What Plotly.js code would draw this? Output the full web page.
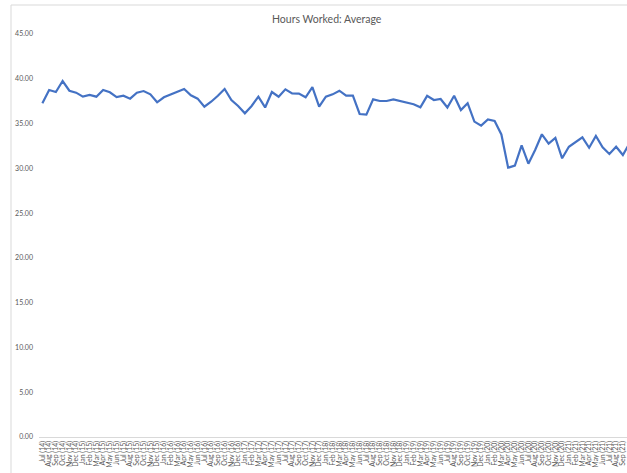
<!DOCTYPE html>
<html>
<head>
<meta charset="utf-8">
<script src="https://cdn.plot.ly/plotly-3.0.1.min.js"></script>
<style>
  html, body { margin: 0; padding: 0; overflow: hidden; background: #fff; }
  #chart { width: 642px; height: 473px; }
</style>
</head>
<body>
<div id="chart"></div>
<script>
const months = [
  "Jul (14)","Aug (14)","Sep (14)","Oct (14)","Nov (14)","Dec (14)",
  "Jan (15)","Feb (15)","Mar (15)","Apr (15)","May (15)","Jun (15)","Jul (15)","Aug (15)","Sep (15)","Oct (15)","Nov (15)","Dec (15)",
  "Jan (16)","Feb (16)","Mar (16)","Apr (16)","May (16)","Jun (16)","Jul (16)","Aug (16)","Sep (16)","Oct (16)","Nov (16)","Dec (16)",
  "Jan (17)","Feb (17)","Mar (17)","Apr (17)","May (17)","Jun (17)","Jul (17)","Aug (17)","Sep (17)","Oct (17)","Nov (17)","Dec (17)",
  "Jan (18)","Feb (18)","Mar (18)","Apr (18)","May (18)","Jun (18)","Jul (18)","Aug (18)","Sep (18)","Oct (18)","Nov (18)","Dec (18)",
  "Jan (19)","Feb (19)","Mar (19)","Apr (19)","May (19)","Jun (19)","Jul (19)","Aug (19)","Sep (19)","Oct (19)","Nov (19)","Dec (19)",
  "Jan (20)","Feb (20)","Mar (20)","Apr (20)","May (20)","Jun (20)","Jul (20)","Aug (20)","Sep (20)","Oct (20)","Nov (20)","Dec (20)",
  "Jan (21)","Feb (21)","Mar (21)","Apr (21)","May (21)","Jun (21)","Jul (21)","Aug (21)","Sep (21)","Oct (21)"
];

const hoursWorked = [
  37.26, 38.75, 38.52, 39.75, 38.67, 38.45,
  38.00, 38.19, 38.00, 38.75, 38.49, 37.96, 38.11, 37.78, 38.45, 38.63, 38.26, 37.37,
  37.93, 38.22, 38.56, 38.86, 38.15, 37.78, 36.88, 37.44, 38.11, 38.86, 37.63, 36.96,
  36.14, 36.96, 38.00, 36.80, 38.52, 38.00, 38.82, 38.37, 38.34, 37.93, 39.07, 36.88,
  38.00, 38.26, 38.67, 38.11, 38.11, 36.07, 35.99, 37.70, 37.52, 37.52, 37.70, 37.52,
  37.37, 37.15, 36.81, 38.09, 37.63, 37.74, 36.79, 38.10, 36.51, 37.28, 35.22, 34.77,
  35.47, 35.28, 33.78, 30.07, 30.30, 32.57, 30.52, 32.05, 33.80, 32.75, 33.39, 31.12,
  32.41, 32.97, 33.46, 32.30, 33.61, 32.34, 31.60, 32.41, 31.49, 32.80
];

// labels drawn on the axis (the last month sits beyond the picture's right edge)
const tickLabels = months.slice(0, months.length - 1);

const yTicks = [0, 5, 10, 15, 20, 25, 30, 35, 40, 45];
const yTickText = ["0.00","5.00","10.00","15.00","20.00","25.00","30.00","35.00","40.00","45.00"];

const chartTitle = "Hours Worked: Average";

const W = 642, H = 473;
const ML = 39, MT = 34, MB = 36;
const MR = W - ML - months.length * 6.75;

const trace = {
  x: months,
  y: hoursWorked,
  type: "scatter",
  mode: "lines",
  line: { color: "#4472C4", width: 2.2 },
  hoverinfo: "x+y"
};

const layout = {
  width: W,
  height: H,
  margin: { l: ML, r: MR, t: MT, b: MB, pad: 0 },
  paper_bgcolor: "#ffffff",
  plot_bgcolor: "#ffffff",
  showlegend: false,
  font: { family: "Lato, 'Open Sans', sans-serif", color: "#595959" },
  title: {
    text: chartTitle,
    font: { family: "Lato, sans-serif", size: 10.5, color: "#595959" },
    x: 326.7 / W,
    xref: "container",
    xanchor: "center",
    y: 1 - 19 / H,
    yref: "container",
    yanchor: "middle"
  },
  xaxis: {
    type: "category",
    range: [-0.5, months.length - 0.5],
    tickmode: "array",
    tickvals: tickLabels,
    ticktext: tickLabels,
    tickangle: -90,
    tickfont: { family: "Lato, sans-serif", size: 7, color: "#595959" },
    showgrid: false,
    zeroline: false,
    showline: true,
    linecolor: "#d9d9d9",
    linewidth: 1,
    ticks: "",
    fixedrange: true,
    automargin: false
  },
  yaxis: {
    range: [0, 45],
    tickmode: "array",
    tickvals: yTicks,
    ticktext: yTickText,
    tickfont: { family: "Lato, sans-serif", size: 7, color: "#595959" },
    showgrid: false,
    zeroline: false,
    showline: false,
    ticks: "",
    ticklabelstandoff: 5,
    fixedrange: true,
    automargin: false
  },
  shapes: [
    {
      type: "rect",
      xref: "paper", yref: "paper",
      x0: (11 - ML) / (W - ML - MR),
      x1: 1.2,
      y0: -0.3,
      y1: (437 - 5) / (H - MT - MB),
      line: { color: "#d9d9d9", width: 1 },
      fillcolor: "rgba(0,0,0,0)",
      layer: "below"
    }
  ]
};

Plotly.newPlot("chart", [trace], layout, { displayModeBar: false, staticPlot: true });
</script>
</body>
</html>
